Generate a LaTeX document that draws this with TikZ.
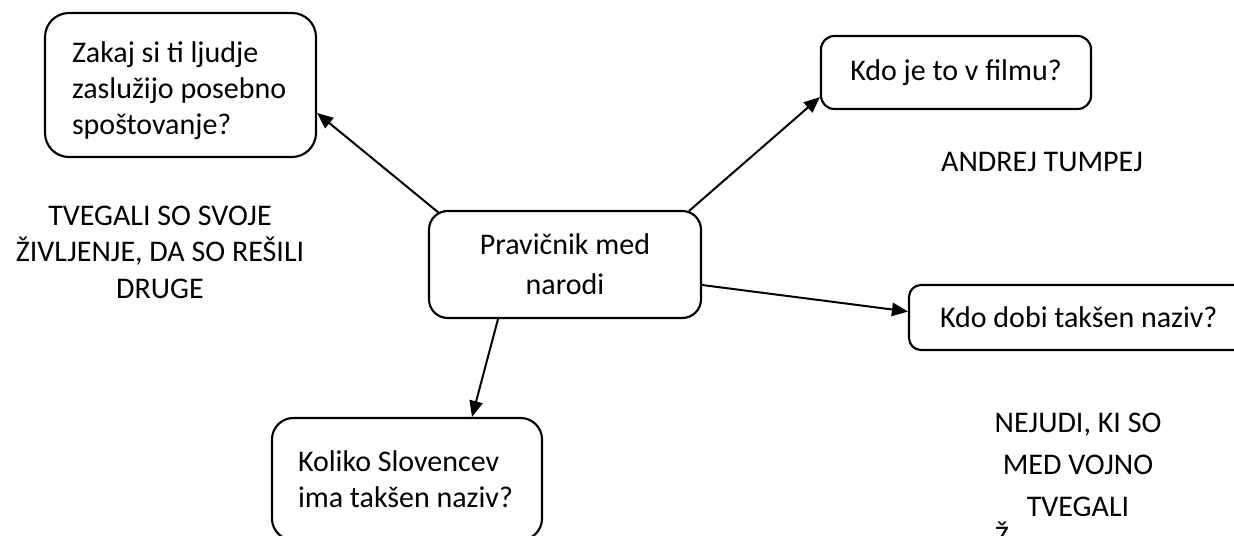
\documentclass[tikz,border=0pt]{standalone}
\usepackage{fontspec}
\setmainfont{Carlito}
\usetikzlibrary{calc,arrows.meta}
\begin{document}
\begin{tikzpicture}[x=0.75pt,y=-0.75pt,
  box/.style={draw,line width=1.6pt,inner sep=0pt,font=\fontsize{22.5}{27}\selectfont},
  lbl/.style={inner sep=0pt,align=center,font=\fontsize{22.5}{27.4}\selectfont},
  arr/.style={line width=1.5pt,-{Triangle[length=12pt,width=10pt]}}]
\useasboundingbox (0,0) rectangle (1234,535);
\clip (0,0) rectangle (1234,535);
% boxes
\node[box,rounded corners=18pt,minimum width=271*0.75pt,minimum height=144*0.75pt,
  text width=217*0.75pt,align=flush left] (A) at (180.5,85)
  {\rule{0pt}{24pt}Zakaj si ti ljudje\\zaslužijo posebno\\spoštovanje?};
\node[box,rounded corners=14pt,minimum width=272*0.75pt,minimum height=107*0.75pt,
  align=center,font=\fontsize{22.5}{30}\selectfont] (C) at (565,264.5)
  {Pravičnik med\\narodi};
\node[box,rounded corners=10pt,minimum width=270*0.75pt,minimum height=73*0.75pt] (F) at (956,72.5)
  {Kdo je to v filmu?};
\node[box,rounded corners=9pt,minimum width=360*0.75pt,minimum height=65*0.75pt,
  text width=298*0.75pt,align=flush left] (D) at (1089,317.5)
  {Kdo dobi takšen naziv?};
\node[box,rounded corners=16pt,minimum width=270*0.75pt,minimum height=122*0.75pt,
  text width=218*0.75pt,align=flush left] (K) at (407,479)
  {Koliko Slovencev\\ima takšen naziv?};
% connectors
\draw[arr] ($(C.north west)+(11,3)$) -- ($(A.east)+(0,28)$);
\draw[arr] ($(C.north east)+(-13,1)$) -- ($(F.south west)+(0,-13)$);
\draw[arr] ($(C.east)+(0,20.5)$) -- ($(D.west)+(0,-6)$);
\draw[arr] ($(C.south)+(-67,0)$) -- ($(K.north)+(65,0)$);
% free labels
\node[lbl] (L) at (160,252) {TVEGALI SO SVOJE\\ŽIVLJENJE, DA SO REŠILI\\DRUGE};
\node[lbl] (R) at (1042,162) {ANDREJ TUMPEJ};
\node[lbl,font=\fontsize{22.5}{31.5}\selectfont] (N) at (1078,465) {NEJUDI, KI SO\\MED VOJNO\\TVEGALI};
\node[lbl,anchor=base] (Z) at (1002,546) {Ž};
\end{tikzpicture}
\end{document}
